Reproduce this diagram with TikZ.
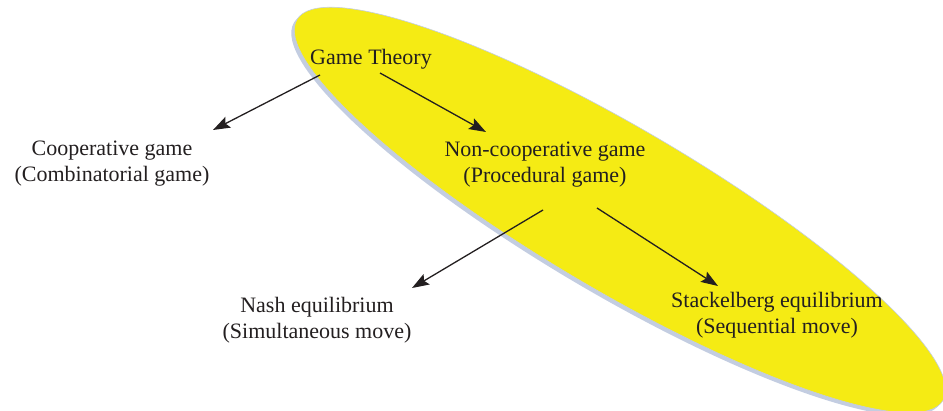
\documentclass[tikz,border=0pt]{standalone}
\usepackage{fontspec}
\setmainfont{Liberation Serif}
\usetikzlibrary{calc,arrows.meta}
\definecolor{ellfill}{RGB}{245,235,20}
\definecolor{shad}{RGB}{195,205,225}
\definecolor{ink}{RGB}{35,31,32}
\begin{document}
\begin{tikzpicture}[x=1pt,y=-1pt,
  lbl/.style={font=\fontsize{22}{26}\selectfont, text=ink, align=center, inner sep=0pt},
  arr/.style={draw=ink, line width=1.3pt, -{Stealth[length=17pt,width=12pt,inset=3pt]}}]
\useasboundingbox (0,0) rectangle (943,411);
\begin{scope}
  \clip (0,0) rectangle (943,411);
  \fill[shad, rotate around={-30.5:(617,213)}] (617,213) ellipse [x radius=375pt, y radius=81pt];
  \filldraw[fill=ellfill, draw=shad, line width=0.6pt, rotate around={-30.5:(620,210)}] (620,210) ellipse [x radius=375pt, y radius=81pt];
\end{scope}
\node[lbl, anchor=base] (gt) at (371,65) {Game Theory};
\node[lbl] (coop) at (112,164) {Cooperative game\\(Combinatorial game)};
\node[lbl] (nc) at (545,165) {Non-cooperative game\\(Procedural game)};
\node[lbl] (nash) at (317,320) {Nash equilibrium\\(Simultaneous move)};
\node[lbl] (st) at (777,315) {Stackelberg equilibrium\\(Sequential move)};
\draw[arr] ($(gt.base)+(-51,10)$) -- ($(coop)+(101,-34)$);
\draw[arr] ($(gt.base)+(9,8)$) -- ($(nc)+(-59,-33)$);
\draw[arr] ($(nc)+(-2,45)$) -- ($(nash)+(95,-32)$);
\draw[arr] ($(nc)+(52,43)$) -- ($(st)+(-59,-29)$);
\end{tikzpicture}
\end{document}
